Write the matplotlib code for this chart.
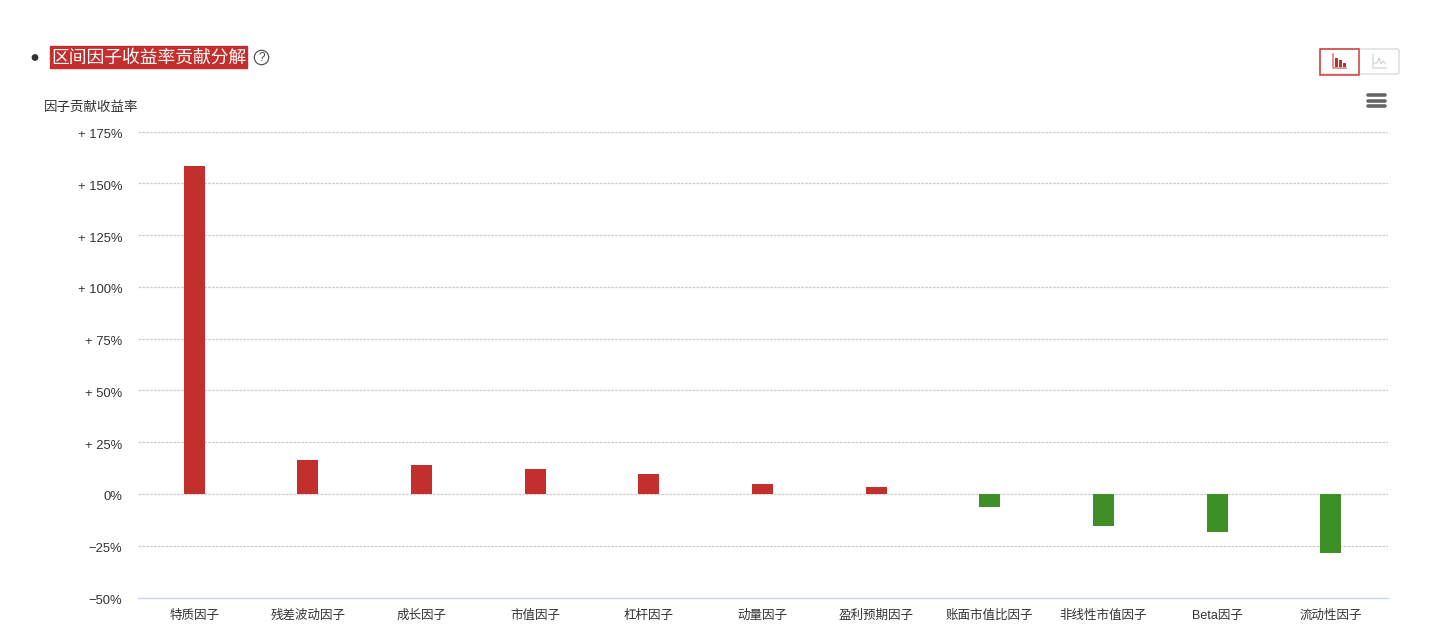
import matplotlib
matplotlib.use('Agg')
import matplotlib.pyplot as plt
from matplotlib.patches import Rectangle, Circle, FancyBboxPatch
from matplotlib.transforms import ScaledTranslation

plt.rcParams['font.family'] = ['Liberation Sans', 'Noto Sans CJK SC']

factors = ['特质因子', '残差波动因子', '成长因子', '市值因子', '杠杆因子', '动量因子',
           '盈利预期因子', '账面市值比因子', '非线性市值因子', 'Beta因子', '流动性因子']
contrib = [158.5, 16.4, 13.8, 12.0, 9.5, 4.6, 3.4, -6.3, -15.5, -18.3, -28.5]
y_ticks = [-50, -25, 0, 25, 50, 75, 100, 125, 150, 175]
y_labels = ['−50%', '−25%', '0%', '+ 25%', '+ 50%', '+ 75%', '+ 100%', '+ 125%', '+ 150%', '+ 175%']

W, H = 1440, 635
red = '#c32f2d'
green = '#3f8f27'
text_color = '#333333'

fig = plt.figure(figsize=(14.4, 6.35), dpi=100, facecolor='white')

# plot area, in pixels of the reference
left, right, top, bottom = 137.5, 1387.5, 131.5, 597.5
ax = fig.add_axes([left / W, 1 - bottom / H, (right - left) / W, (bottom - top) / H])

x = list(range(len(factors)))
colors = [red if v >= 0 else green for v in contrib]
ax.bar(x, contrib, width=21 / (1250 / 11), color=colors, zorder=3)

ax.set_xlim(-0.5, len(factors) - 0.5)
ax.set_ylim(-50, 175)
ax.set_xticks(x)
ax.set_xticklabels(factors, fontsize=9, color=text_color)
ax.set_yticks(y_ticks)
ax.set_yticklabels(y_labels, fontsize=9.4, color=text_color)
ax.tick_params(axis='both', length=0)
ax.tick_params(axis='x', pad=9)
ax.tick_params(axis='y', pad=11)
ax.grid(axis='y', color='#cdcdcd', linewidth=0.9, linestyle=(0, (2.2, 0.9)), zorder=1)
ax.set_axisbelow(True)
for s in ['top', 'right', 'left']:
    ax.spines[s].set_visible(False)
ax.spines['bottom'].set_color('#ccd6eb')
ax.spines['bottom'].set_linewidth(1)
ax.yaxis.get_gridlines()[0].set_visible(False)

# tick labels sit a little below their gridline in the reference
nudge = ScaledTranslation(0, -2 / 100, fig.dpi_scale_trans)
for lab in ax.get_yticklabels():
    lab.set_transform(lab.get_transform() + nudge)
for lab in ax.get_xticklabels():
    lab.set_va('baseline')
    lab.set_transform(lab.get_transform() + ScaledTranslation(0, -9 / 100, fig.dpi_scale_trans))

# page furniture above the chart, overlay axes in pixels
ov = fig.add_axes([0, 0, 1, 1], zorder=5)
ov.set_xlim(0, W)
ov.set_ylim(H, 0)
ov.axis('off')
ov.patch.set_alpha(0)

ov.add_patch(Circle((35, 57.5), 2.7, color='#333333'))
ov.add_patch(Rectangle((49.5, 45.5), 197, 22, color=red))
ov.text(148.5, 57.5, '区间因子收益率贡献分解', fontsize=12.8, color='white', ha='center', va='center',
        family='Noto Sans CJK SC', weight='medium')
ov.add_patch(Circle((261.5, 57.5), 7.2, fill=False, ec='#555555', lw=0.9))
ov.text(261.5, 58, '?', fontsize=8.5, color='#444444', ha='center', va='center')
ov.text(44, 107.5, '因子贡献收益率', fontsize=9.7, color=text_color, ha='left', va='center')

# chart type switch
ov.add_patch(FancyBboxPatch((1320, 49), 79, 25, boxstyle='round,pad=0,rounding_size=2',
                            fill=False, ec='#e0e0e0', lw=1.2))
ov.add_patch(Rectangle((1319.5, 48.5), 39.5, 26, fill=False, ec='#cf3a37', lw=1.1))
ov.plot([1332.5, 1332.5, 1346], [54, 68, 68], color='#d98583', lw=1.2)
for bx, by in zip([1335, 1339, 1343], [58, 60, 63]):
    ov.add_patch(Rectangle((bx, by), 2.6, 67 - by, color='#c32f2d', lw=0))
ov.plot([1372.5, 1372.5, 1386], [55, 68, 68], color='#dddddd', lw=1.2)
ov.plot([1374, 1377, 1379, 1381, 1383, 1385], [63, 63, 58, 64, 61, 63], color='#d5d5d5', lw=0.9)

# export menu icon
for my in [95, 100.5, 106]:
    ov.plot([1368, 1385], [my, my], color='#666666', lw=2.6, solid_capstyle='round')

fig.savefig('out.png', dpi=100)
